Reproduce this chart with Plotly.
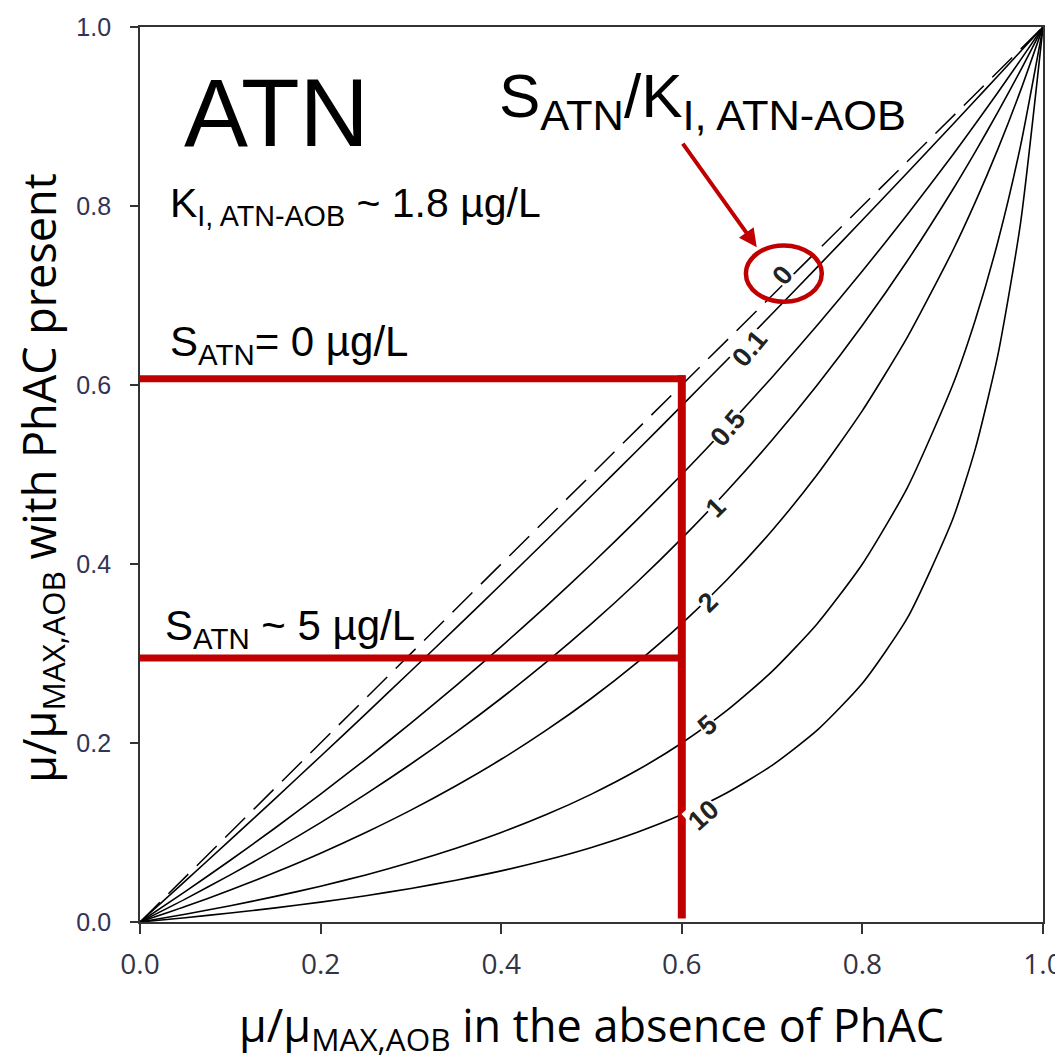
import plotly.graph_objects as go

# ---- data ----
x_vals = [0, 0.05, 0.1, 0.15, 0.2, 0.25, 0.3, 0.35, 0.4, 0.45, 0.5, 0.55, 0.6,
          0.65, 0.7, 0.75, 0.8, 0.85, 0.9, 0.925, 0.95, 0.975, 1.0]

ratio_0 = [0, 0.05, 0.1, 0.15, 0.2, 0.25, 0.3, 0.35, 0.4, 0.45, 0.5, 0.55, 0.6,
           0.65, 0.7, 0.75, 0.8, 0.85, 0.9, 0.925, 0.95, 0.975, 1.0]
ratio_0_1 = [0, 0.0457, 0.0917, 0.1382, 0.1852, 0.2326, 0.2804, 0.3286, 0.3774, 0.4265,
             0.4762, 0.5263, 0.5769, 0.6280, 0.6796, 0.7317, 0.7843, 0.8374, 0.8911,
             0.9181, 0.9453, 0.9726, 1.0]
ratio_0_5 = [0, 0.0339, 0.0690, 0.1053, 0.1429, 0.1818, 0.2222, 0.2642, 0.3077, 0.3529,
             0.4000, 0.4490, 0.5000, 0.5532, 0.6087, 0.6667, 0.7273, 0.7907, 0.8571,
             0.8916, 0.9268, 0.9630, 1.0]
ratio_1 = [0, 0.0256, 0.0526, 0.0811, 0.1111, 0.1429, 0.1765, 0.2121, 0.2500, 0.2903,
           0.3333, 0.3793, 0.4286, 0.4815, 0.5385, 0.6000, 0.6667, 0.7391, 0.8182,
           0.8605, 0.9048, 0.9512, 1.0]
ratio_2 = [0, 0.0172, 0.0357, 0.0556, 0.0769, 0.1000, 0.1250, 0.1522, 0.1818, 0.2143,
           0.2500, 0.2895, 0.3333, 0.3824, 0.4375, 0.5000, 0.5714, 0.6538, 0.7500,
           0.8043, 0.8636, 0.9286, 1.0]
ratio_5 = [0, 0.0087, 0.0182, 0.0286, 0.0400, 0.0526, 0.0667, 0.0824, 0.1000, 0.1200,
           0.1429, 0.1692, 0.2000, 0.2364, 0.2800, 0.3333, 0.4000, 0.4857, 0.6000,
           0.6727, 0.7600, 0.8667, 1.0]
ratio_10 = [0, 0.0048, 0.0100, 0.0158, 0.0222, 0.0294, 0.0375, 0.0467, 0.0571, 0.0692,
            0.0833, 0.1000, 0.1200, 0.1444, 0.1750, 0.2143, 0.2667, 0.3400, 0.4500,
            0.5286, 0.6333, 0.7800, 1.0]

curve_labels = ["0.1", "0.5", "1", "2", "5", "10"]
curve_values = [ratio_0_1, ratio_0_5, ratio_1, ratio_2, ratio_5, ratio_10]

# contour label positions (x, y) and angles
label_text = ["0", "0.1", "0.5", "1", "2", "5", "10"]
label_x = [0.712, 0.676, 0.651, 0.637, 0.629, 0.629, 0.624]
label_y = [0.723, 0.641, 0.552, 0.463, 0.358, 0.220, 0.120]
label_angle = [-50, -50, -50, -45, -45, -40, -42]

tick_vals = [0, 0.2, 0.4, 0.6, 0.8, 1.0]
tick_text = ["0.0", "0.2", "0.4", "0.6", "0.8", "1.0"]

# reading lines
s0_level = 0.607
s5_level = 0.295
x_read = 0.6

RED = "#C00000"
FONT = "Liberation Sans, Arial, sans-serif"
TITLE_FONT = "Open Sans, Liberation Sans, sans-serif"

fig = go.Figure()

fig.add_trace(go.Scatter(x=x_vals, y=ratio_0, mode="lines",
                         line=dict(color="black", width=1.5, dash="28px,12px"),
                         showlegend=False, hoverinfo="skip"))
for name, yv in zip(curve_labels, curve_values):
    fig.add_trace(go.Scatter(x=x_vals, y=yv, mode="lines", name=name,
                             line=dict(color="black", width=1.6, shape="spline", smoothing=0.6),
                             showlegend=False, hoverinfo="skip"))

# red reading lines
fig.add_shape(type="line", x0=0, x1=x_read + 0.004, y0=s0_level, y1=s0_level,
              xref="x", yref="y", line=dict(color=RED, width=7))
fig.add_shape(type="line", x0=-0.002, x1=x_read, y0=s5_level, y1=s5_level,
              xref="x", yref="y", line=dict(color=RED, width=7))
fig.add_shape(type="line", x0=x_read, x1=x_read, y0=0.004, y1=s0_level + 0.004,
              xref="x", yref="y", line=dict(color=RED, width=8))
# red ellipse
fig.add_shape(type="circle", x0=0.671, x1=0.755, y0=0.693, y1=0.756,
              xref="x", yref="y", line=dict(color=RED, width=4.5))

annotations = []
for t, lx, ly, ang in zip(label_text, label_x, label_y, label_angle):
    annotations.append(dict(x=lx, y=ly, xref="x", yref="y", text="<b>" + t + "</b>",
                            showarrow=False, textangle=ang, bgcolor="white", borderpad=0,
                            font=dict(family=FONT, size=27, color="#222222")))

annotations += [
    dict(x=0.047, y=0.904, xref="x", yref="y", text="ATN", showarrow=False,
         xanchor="left", yanchor="middle", font=dict(family=FONT, size=96, color="black")),
    dict(x=0.031, y=0.8, xref="x", yref="y",
         text="K<sub>I, ATN-AOB</sub> ~ 1.8 µg/L", showarrow=False,
         xanchor="left", yanchor="middle", font=dict(family=FONT, size=41, color="black")),
    dict(x=0.395, y=0.918, xref="x", yref="y",
         text="S<sub>ATN</sub>/K<sub>I, ATN-AOB</sub>", showarrow=False,
         xanchor="left", yanchor="middle", font=dict(family=FONT, size=62, color="black")),
    dict(x=0.031, y=0.645, xref="x", yref="y",
         text="S<sub>ATN</sub>= 0 µg/L", showarrow=False,
         xanchor="left", yanchor="middle", font=dict(family=FONT, size=42, color="black")),
    dict(x=0.025, y=0.328, xref="x", yref="y",
         text="S<sub>ATN</sub> ~ 5 µg/L", showarrow=False,
         xanchor="left", yanchor="middle", font=dict(family=FONT, size=42, color="black")),
    # arrow
    dict(x=0.683, y=0.754, xref="x", yref="y", ax=-75, ay=-105, text="",
         showarrow=True, arrowhead=2, arrowsize=0.9, arrowwidth=4, arrowcolor=RED),
    # axis titles
    dict(x=0.5, y=-0.117, xref="paper", yref="paper",
         text="μ/μ<sub>MAX,AOB</sub> in the absence of PhAC", showarrow=False,
         xanchor="center", yanchor="middle",
         font=dict(family=TITLE_FONT, size=45, color="black")),
    dict(x=-0.11, y=0.496, xref="paper", yref="paper",
         text="μ/μ<sub>MAX,AOB</sub> with PhAC present", showarrow=False, textangle=-90,
         xanchor="center", yanchor="middle",
         font=dict(family=TITLE_FONT, size=45, color="black")),
]

axis_common = dict(range=[0, 1], tickvals=tick_vals, automargin=False,
                   showline=True, linecolor="#333333", linewidth=2, mirror=True,
                   ticks="outside", tickcolor="#333333", tickwidth=2,
                   showgrid=False, zeroline=False)

# The page body has an 8px default margin, so margins are reduced by 8px on left/top.
fig.update_layout(
    width=1063, height=1059,
    margin=dict(l=132, r=28, t=19, b=145),
    paper_bgcolor="white", plot_bgcolor="white",
    xaxis=dict(**axis_common, ticktext=tick_text, ticklen=10, ticklabelstandoff=6,
               tickfont=dict(family=TITLE_FONT, size=28, color="#333344")),
    yaxis=dict(**axis_common, ticktext=[t + "\u00a0\u00a0" for t in tick_text], ticklen=8,
               tickfont=dict(family=FONT, size=25, color="#333355")),
    annotations=annotations,
    showlegend=False,
)

fig.write_html("out.html")
